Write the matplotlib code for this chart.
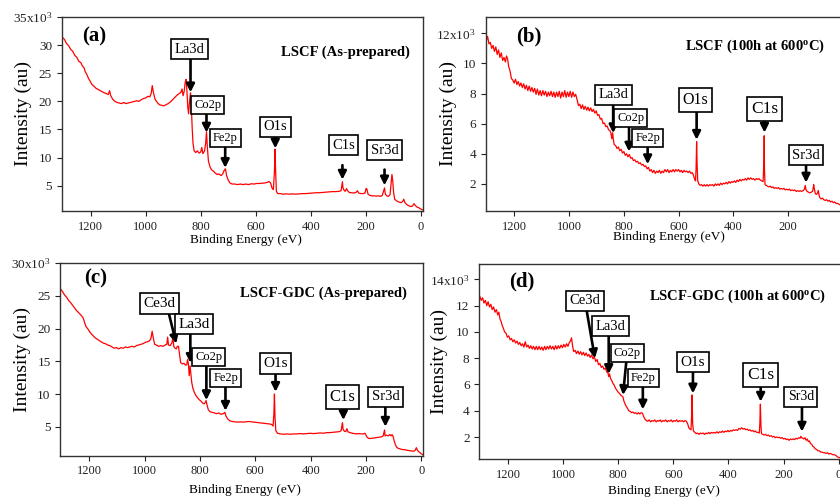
import matplotlib
matplotlib.use("Agg")
import matplotlib.pyplot as plt

plt.rcParams.update({
    "font.family": ["Liberation Serif", "DejaVu Serif"],
    "mathtext.fontset": "custom",
    "mathtext.rm": "Liberation Serif",
    "mathtext.bf": "Liberation Serif:bold",
    "mathtext.it": "Liberation Serif:italic",
})

# XPS survey spectra: binding energy (eV) and intensity (x10^3 counts)
A_BE = [1303, 1295, 1288, 1280, 1272, 1265, 1258, 1250, 1243, 1236,
        1230, 1224, 1220, 1214, 1208, 1202, 1195, 1188, 1180, 1172,
        1165, 1158, 1150, 1143, 1136, 1131, 1127, 1120, 1112, 1104,
        1096, 1088, 1080, 1072, 1064, 1056, 1048, 1040, 1032, 1024,
        1016, 1008, 1000, 992, 985, 980, 976, 972, 966, 958,
        950, 942, 934, 926, 918, 910, 902, 894, 886, 878,
        872, 868, 864, 860, 856, 853, 850, 847, 844, 840,
        837, 834, 831, 828, 824, 818, 812, 806, 800, 796,
        792, 786, 782, 779, 776, 772, 766, 760, 754, 746,
        740, 734, 726, 720, 714, 710, 706, 700, 694, 686,
        676, 666, 656, 646, 636, 626, 616, 606, 596, 586,
        576, 566, 558, 552, 546, 541, 536, 532, 530, 528,
        525, 520, 512, 500, 490, 478, 466, 454, 442, 430,
        418, 406, 394, 382, 370, 358, 346, 334, 322, 310,
        298, 290, 287, 285, 283, 279, 275, 270, 266, 260,
        252, 244, 236, 230, 226, 218, 210, 203, 199, 196,
        192, 186, 178, 170, 162, 154, 146, 140, 135, 132,
        129, 124, 118, 112, 108, 105, 102, 99, 95, 88,
        80, 72, 66, 62, 58, 50, 42, 36, 30, 25,
        20, 14, 8, 2, -4, -7]
A_I = [31.4, 31.0, 30.3, 29.9, 29.2, 28.9, 28.2, 27.8, 27.1, 26.9,
       26.3, 26.0, 25.3, 24.8, 24.1, 23.6, 23.0, 22.7, 22.3, 22.1,
       21.9, 21.7, 21.5, 21.4, 21.2, 21.9, 21.0, 20.4, 20.0, 19.8,
       19.7, 19.6, 19.8, 19.6, 19.7, 19.8, 19.9, 20.0, 20.1, 20.0,
       20.3, 20.5, 20.6, 20.9, 20.8, 21.4, 22.8, 21.6, 20.4, 19.8,
       19.4, 19.3, 19.2, 19.4, 19.6, 19.9, 20.3, 20.7, 21.1, 21.4,
       21.6, 22.2, 21.0, 21.8, 23.5, 23.9, 21.8, 19.0, 17.8, 20.3,
       21.5, 19.0, 15.3, 12.6, 11.2, 10.9, 11.2, 10.8, 11.0, 11.8,
       10.7, 11.2, 12.5, 14.6, 12.0, 9.4, 8.3, 7.8, 7.6, 7.2,
       7.0, 7.1, 6.8, 7.1, 7.8, 8.0, 6.8, 6.0, 5.5, 5.3,
       5.3, 5.2, 5.3, 5.2, 5.3, 5.2, 5.35, 5.3, 5.4, 5.4,
       5.45, 5.5, 5.6, 5.75, 5.5, 4.6, 4.3, 7.5, 11.5, 8.0,
       4.0, 3.6, 3.6, 3.5, 3.55, 3.5, 3.55, 3.5, 3.55, 3.6,
       3.6, 3.65, 3.7, 3.75, 3.75, 3.8, 3.85, 3.9, 3.95, 3.95,
       4.0, 4.1, 5.0, 5.7, 4.6, 4.2, 4.0, 4.5, 4.1, 3.8,
       3.75, 3.7, 3.8, 4.1, 3.7, 3.6, 3.6, 3.7, 4.5, 4.4,
       3.5, 3.3, 3.2, 3.2, 3.15, 3.2, 3.1, 3.3, 4.1, 4.6,
       3.5, 3.2, 3.1, 3.4, 5.5, 7.0, 5.8, 3.8, 2.6, 2.3,
       2.1, 2.0, 2.2, 2.6, 2.0, 1.6, 1.4, 1.3, 1.4, 1.8,
       1.5, 1.2, 1.1, 0.9, 0.75, 0.7]

B_BE = [1303, 1298, 1293, 1288, 1283, 1278, 1273, 1268, 1263, 1258,
        1253, 1248, 1243, 1238, 1233, 1229, 1225, 1221, 1216, 1211,
        1206, 1201, 1196, 1191, 1186, 1181, 1176, 1171, 1166, 1161,
        1156, 1151, 1146, 1141, 1136, 1131, 1126, 1121, 1116, 1111,
        1106, 1101, 1096, 1091, 1086, 1081, 1076, 1071, 1066, 1061,
        1056, 1051, 1046, 1041, 1036, 1031, 1026, 1021, 1016, 1011,
        1006, 1001, 996, 991, 986, 981, 976, 971, 966, 961,
        956, 951, 946, 941, 936, 931, 926, 921, 916, 911,
        906, 901, 896, 891, 886, 881, 876, 871, 866, 861,
        856, 851, 847, 844, 841, 838, 835, 830, 825, 820,
        815, 810, 805, 800, 795, 790, 785, 780, 775, 770,
        765, 760, 755, 750, 745, 740, 735, 730, 725, 720,
        715, 710, 705, 700, 695, 690, 685, 680, 675, 670,
        665, 660, 655, 650, 645, 640, 635, 630, 625, 620,
        615, 610, 605, 600, 595, 590, 585, 580, 575, 570,
        565, 560, 555, 550, 546, 542, 538, 536, 534, 532,
        530, 526, 521, 516, 511, 506, 501, 496, 491, 486,
        481, 476, 471, 466, 461, 456, 451, 446, 441, 436,
        431, 426, 421, 416, 411, 406, 401, 396, 391, 386,
        381, 376, 371, 366, 361, 356, 351, 346, 341, 336,
        331, 326, 321, 316, 311, 306, 301, 296, 291, 288,
        287, 286, 284, 280, 275, 270, 265, 260, 255, 250,
        245, 240, 235, 230, 225, 220, 215, 210, 205, 200,
        195, 190, 185, 180, 175, 170, 165, 160, 155, 150,
        145, 140, 137, 134, 130, 125, 120, 115, 110, 106,
        104, 100, 96, 92, 89, 87, 84, 79, 74, 69,
        64, 59, 54, 49, 44, 39, 34, 29, 24, 19,
        14, 9, 4, -1, -7]
B_I = [11.5, 11.8, 11.3, 11.4, 11.0, 11.2, 10.8, 11.1, 10.6, 10.9,
       10.4, 10.7, 10.2, 10.4, 10.1, 10.5, 10.3, 9.8, 9.5, 9.0,
       8.9, 8.7, 8.95, 8.6, 8.8, 8.5, 8.7, 8.4, 8.65, 8.3,
       8.55, 8.2, 8.5, 8.15, 8.4, 8.1, 8.35, 7.95, 8.3, 7.9,
       8.2, 7.85, 8.2, 7.9, 8.15, 7.8, 8.1, 7.85, 8.15, 7.8,
       8.1, 7.75, 8.1, 7.8, 8.15, 7.7, 8.1, 7.8, 8.2, 7.75,
       8.1, 7.8, 8.15, 7.75, 8.1, 7.8, 7.95, 7.6, 7.2, 7.3,
       7.0, 7.25, 6.95, 7.15, 6.9, 7.1, 6.85, 7.05, 6.8, 6.95,
       6.7, 6.85, 6.55, 6.6, 6.3, 6.35, 6.0, 6.05, 5.8, 5.85,
       5.6, 5.55, 5.35, 5.0, 5.4, 4.9, 4.6, 4.55, 4.35, 4.45,
       4.2, 4.3, 4.05, 4.15, 3.9, 4.0, 3.8, 3.95, 3.7, 3.75,
       3.55, 3.6, 3.45, 3.5, 3.35, 3.4, 3.25, 3.3, 3.15, 3.2,
       3.0, 3.1, 2.85, 2.95, 2.75, 2.9, 2.7, 2.85, 2.75, 2.9,
       2.7, 2.85, 2.75, 2.95, 2.8, 2.95, 2.75, 2.9, 2.8, 2.95,
       2.8, 2.95, 2.85, 2.95, 2.8, 2.9, 2.75, 2.9, 2.8, 2.85,
       2.75, 2.85, 2.7, 2.75, 2.6, 2.35, 2.2, 3.0, 4.8, 3.2,
       2.2, 2.0, 1.9, 1.95, 1.85, 1.95, 1.85, 1.95, 1.85, 1.95,
       1.9, 1.95, 1.85, 2.0, 1.9, 2.0, 1.9, 2.05, 1.95, 2.05,
       2.0, 2.1, 2.0, 2.15, 2.05, 2.15, 2.1, 2.2, 2.1, 2.25,
       2.15, 2.3, 2.2, 2.3, 2.25, 2.35, 2.25, 2.4, 2.3, 2.4,
       2.3, 2.35, 2.25, 2.35, 2.3, 2.35, 2.25, 2.2, 2.15, 3.5,
       5.2, 3.0, 1.95, 1.9, 1.85, 1.8, 1.85, 1.75, 1.8, 1.7,
       1.75, 1.7, 1.75, 1.65, 1.7, 1.65, 1.7, 1.6, 1.65, 1.6,
       1.65, 1.55, 1.6, 1.55, 1.6, 1.5, 1.55, 1.5, 1.55, 1.5,
       1.55, 1.65, 1.9, 1.6, 1.5, 1.45, 1.4, 1.45, 1.5, 1.95,
       1.7, 1.35, 1.3, 1.4, 1.55, 1.3, 1.1, 1.0, 1.05, 0.95,
       0.9, 0.95, 0.85, 0.9, 0.8, 0.85, 0.75, 0.8, 0.7, 0.7,
       0.65, 0.6, 0.6, 0.55, 0.55]

C_BE = [1303, 1296, 1289, 1282, 1275, 1268, 1261, 1254, 1247, 1240,
        1233, 1227, 1222, 1217, 1212, 1206, 1200, 1193, 1186, 1179,
        1172, 1165, 1158, 1150, 1142, 1134, 1126, 1118, 1110, 1102,
        1094, 1086, 1078, 1070, 1062, 1054, 1046, 1038, 1030, 1022,
        1014, 1006, 998, 990, 984, 978, 973, 969, 964, 958,
        950, 942, 934, 926, 920, 917, 914, 908, 902, 898,
        895, 890, 886, 882, 878, 874, 870, 864, 858, 852,
        848, 845, 842, 839, 836, 833, 830, 826, 820, 814,
        808, 802, 796, 790, 785, 781, 778, 775, 770, 764,
        756, 748, 740, 732, 724, 716, 710, 706, 700, 692,
        684, 674, 664, 654, 644, 634, 624, 614, 604, 594,
        584, 574, 564, 554, 545, 540, 536, 533, 531, 529,
        526, 520, 510, 498, 486, 474, 462, 450, 438, 426,
        414, 402, 390, 378, 366, 354, 342, 330, 318, 306,
        296, 290, 287, 285, 283, 278, 273, 269, 265, 258,
        250, 242, 234, 226, 218, 210, 204, 200, 196, 190,
        184, 176, 168, 160, 152, 144, 138, 135, 133, 131,
        126, 120, 114, 110, 106, 102, 98, 94, 90, 84,
        76, 68, 60, 52, 44, 36, 28, 22, 18, 14,
        10, 4, -2, -7]
C_I = [26.0, 25.6, 25.1, 24.8, 24.3, 24.0, 23.6, 23.2, 22.8, 22.5,
       22.2, 21.9, 21.6, 20.9, 20.3, 20.0, 19.6, 19.2, 18.9, 18.6,
       18.4, 18.2, 18.0, 17.8, 17.7, 17.5, 17.4, 17.2, 17.0, 17.1,
       16.9, 17.1, 17.0, 17.2, 17.1, 17.2, 17.3, 17.2, 17.4, 17.5,
       17.6, 17.7, 17.9, 18.0, 18.1, 18.4, 19.6, 18.6, 17.6, 17.5,
       17.3, 17.4, 17.3, 17.5, 17.6, 18.7, 17.5, 17.4, 17.8, 18.6,
       17.3, 17.0, 16.9, 17.3, 17.3, 16.0, 14.8, 14.6, 14.7, 14.4,
       14.5, 15.3, 14.6, 12.8, 14.3, 13.0, 11.8, 10.9, 10.2, 9.7,
       9.4, 9.1, 8.9, 8.6, 8.5, 8.7, 9.0, 8.4, 7.6, 7.3,
       7.2, 7.1, 7.0, 7.1, 6.9, 7.0, 7.2, 6.6, 6.2, 5.9,
       5.8, 5.75, 5.7, 5.75, 5.7, 5.75, 5.8, 5.75, 5.7, 5.65,
       5.6, 5.55, 5.5, 5.45, 5.4, 5.3, 5.1, 7.0, 10.0, 6.5,
       4.4, 4.0, 3.9, 3.85, 3.9, 3.85, 3.9, 3.9, 3.95, 3.9,
       3.95, 4.0, 3.95, 4.0, 4.05, 4.0, 4.1, 4.1, 4.15, 4.2,
       4.25, 4.4, 5.2, 5.6, 4.6, 4.3, 4.25, 4.7, 4.2, 4.1,
       4.0, 3.95, 3.9, 3.95, 3.9, 3.9, 4.0, 3.7, 3.4, 3.2,
       3.2, 3.25, 3.3, 3.35, 3.4, 3.45, 3.6, 4.1, 4.5, 3.6,
       3.7, 3.6, 3.8, 3.6, 3.8, 3.5, 2.8, 2.3, 1.9, 1.7,
       1.6, 1.5, 1.5, 1.4, 1.35, 1.3, 1.25, 1.4, 1.8, 1.4,
       1.2, 1.0, 0.8, 0.7]

D_BE = [1303, 1298, 1293, 1288, 1283, 1278, 1273, 1268, 1263, 1258,
        1253, 1248, 1243, 1238, 1234, 1230, 1226, 1222, 1218, 1213,
        1208, 1203, 1198, 1193, 1188, 1183, 1178, 1173, 1168, 1163,
        1158, 1153, 1148, 1143, 1138, 1133, 1128, 1123, 1118, 1113,
        1108, 1103, 1098, 1093, 1088, 1083, 1078, 1073, 1068, 1063,
        1058, 1053, 1048, 1043, 1038, 1033, 1028, 1023, 1018, 1013,
        1008, 1003, 998, 993, 988, 983, 978, 974, 970, 966,
        962, 957, 952, 947, 942, 937, 932, 927, 922, 917,
        912, 907, 902, 897, 892, 887, 882, 877, 872, 867,
        862, 857, 852, 847, 842, 838, 835, 832, 828, 824,
        820, 815, 810, 805, 800, 795, 790, 786, 783, 780,
        776, 772, 767, 762, 757, 752, 747, 742, 737, 732,
        727, 722, 717, 712, 708, 703, 698, 693, 688, 683,
        678, 673, 668, 663, 658, 653, 648, 643, 638, 633,
        628, 623, 618, 613, 608, 603, 598, 593, 588, 583,
        578, 573, 568, 563, 558, 553, 548, 544, 540, 536,
        534, 532, 530, 527, 522, 517, 512, 507, 502, 497,
        492, 487, 482, 477, 472, 467, 462, 457, 452, 447,
        442, 437, 432, 427, 422, 417, 412, 407, 402, 397,
        392, 387, 382, 377, 372, 367, 362, 357, 352, 347,
        342, 337, 332, 327, 322, 317, 312, 307, 302, 297,
        292, 288, 286, 284, 282, 280, 275, 270, 265, 260,
        255, 250, 245, 240, 235, 230, 225, 220, 215, 210,
        205, 200, 195, 190, 185, 180, 175, 170, 165, 160,
        155, 150, 145, 140, 137, 134, 130, 126, 122, 118,
        114, 110, 106, 102, 98, 94, 90, 85, 80, 75,
        70, 65, 60, 55, 50, 45, 40, 35, 30, 25,
        20, 15, 10, 5, 0, -7]
D_I = [12.7, 12.4, 12.6, 12.2, 12.4, 12.0, 12.3, 11.9, 12.1, 11.7,
       11.9, 11.5, 11.7, 11.3, 11.5, 11.0, 10.8, 10.5, 10.3, 10.0,
       9.9, 9.6, 9.7, 9.4, 9.5, 9.25, 9.4, 9.15, 9.3, 9.05,
       9.2, 8.95, 9.1, 8.85, 9.25, 8.85, 9.0, 8.75, 8.95, 8.7,
       8.9, 8.65, 8.9, 8.65, 8.9, 8.65, 8.85, 8.6, 8.9, 8.65,
       8.9, 8.7, 8.95, 8.7, 8.9, 8.65, 8.95, 8.7, 8.95, 8.75,
       9.0, 8.8, 9.05, 8.85, 9.1, 8.9, 9.2, 9.3, 9.55, 8.9,
       8.5, 8.6, 8.35, 8.55, 8.3, 8.5, 8.25, 8.45, 8.2, 8.4,
       8.15, 8.3, 8.05, 8.25, 7.95, 8.1, 7.75, 7.9, 7.5, 7.6,
       7.3, 7.4, 7.15, 7.25, 6.95, 6.9, 6.6, 6.8, 6.45, 6.3,
       6.1, 5.95, 5.7, 5.55, 5.4, 5.3, 5.15, 5.1, 5.05, 4.75,
       4.55, 4.35, 4.2, 4.0, 3.95, 3.85, 3.9, 3.8, 3.85, 3.75,
       3.85, 3.75, 3.85, 3.8, 3.55, 3.35, 3.25, 3.2, 3.3, 3.15,
       3.25, 3.2, 3.3, 3.15, 3.25, 3.2, 3.3, 3.15, 3.25, 3.2,
       3.3, 3.15, 3.25, 3.2, 3.3, 3.15, 3.25, 3.2, 3.3, 3.15,
       3.25, 3.2, 3.25, 3.15, 3.25, 3.2, 3.0, 2.7, 2.6, 2.55,
       3.5, 5.2, 3.0, 2.45, 2.35, 2.25, 2.3, 2.2, 2.3, 2.25,
       2.3, 2.2, 2.3, 2.25, 2.35, 2.25, 2.35, 2.3, 2.35, 2.3,
       2.4, 2.3, 2.4, 2.35, 2.45, 2.35, 2.45, 2.4, 2.5, 2.4,
       2.5, 2.45, 2.55, 2.5, 2.55, 2.5, 2.65, 2.6, 2.7, 2.6,
       2.65, 2.55, 2.6, 2.5, 2.55, 2.45, 2.5, 2.4, 2.45, 2.35,
       2.35, 2.3, 3.0, 4.5, 2.9, 2.25, 2.2, 2.15, 2.2, 2.1,
       2.15, 2.05, 2.1, 2.0, 2.05, 1.95, 2.0, 1.95, 1.98, 1.9,
       1.95, 1.85, 1.9, 1.8, 1.85, 1.75, 1.85, 1.8, 1.85, 1.8,
       1.9, 1.85, 1.95, 1.9, 2.05, 1.95, 1.9, 1.85, 1.95, 1.75,
       1.85, 1.65, 1.7, 1.5, 1.45, 1.3, 1.25, 1.1, 1.05, 0.95,
       0.95, 0.85, 0.85, 0.8, 0.8, 0.75, 0.8, 0.7, 0.75, 0.7,
       0.65, 0.65, 0.6, 0.5, 0.45, 0.4]

# y ticks (x10^3) per panel; the top one carries the multiplier
A_TICKS = [5, 10, 15, 20, 25, 30, 35]
B_TICKS = [2, 4, 6, 8, 10, 12]
C_TICKS = [5, 10, 15, 20, 25, 30]
D_TICKS = [2, 4, 6, 8, 10, 12, 14]
X_TICKS = [1200, 1000, 800, 600, 400, 200, 0]

TAGS = ["(a)", "(b)", "(c)", "(d)"]
SAMPLES = ["LSCF (As-prepared)",
           r"LSCF (100h at 600$^{\mathbf{o}}$C)",
           "LSCF-GDC (As-prepared)",
           r"LSCF-GDC (100h at 600$^{\mathbf{o}}$C)"]

# peak markers: label, box centre, arrow tail, arrow head, font size
A_PEAKS = [("La3d", (840, 29.3), (837, 27.5), (837, 21.6), 10.5),
           ("Co2p", (774, 19.4), (779, 17.9), (779, 14.45), 9),
           ("Fe2p", (711, 13.4), (711, 12.06), (711, 8.17), 9),
           ("O1s", (529, 15.5), (529, 13.97), (529, 11.64), 10.5),
           ("C1s", (281, 12.2), (285, 8.65), (285, 6.08), 10.5),
           ("Sr3d", (132, 11.3), (132, 7.87), (132, 5.06), 10.5)]
B_PEAKS = [("La3d", (839, 7.92), (839, 7.25), (839, 5.37), 10.5),
           ("Co2p", (775, 6.39), (781, 5.81), (781, 4.15), 9),
           ("Fe2p", (713, 5.06), (713, 4.48), (713, 3.31), 9),
           ("O1s", (539, 7.59), (534, 6.88), (534, 4.93), 11.5),
           ("C1s", (285, 6.97), (286, 6.15), (286, 5.41), 12.5),
           ("Sr3d", (134, 3.91), (134, 3.26), (134, 2.09), 10.5)]
C_PEAKS = [("Ce3d", (946, 23.83), (914, 22.56), (886, 17.72), 11),
           ("La3d", (822, 20.67), (835, 19.25), (835, 14.77), 11),
           ("Co2p", (768, 15.69), (777, 14.41), (777, 9.07), 9),
           ("Fe2p", (707, 12.38), (708, 11.1), (708, 7.44), 9),
           ("O1s", (527, 14.67), (527, 13.14), (527, 10.34), 11),
           ("C1s", (285, 9.58), (282, 8.05), (282, 6.02), 12),
           ("Sr3d", (130, 9.58), (130, 8.05), (130, 5.0), 10.5)]
D_PEAKS = [("Ce3d", (921, 12.36), (915, 11.62), (885, 7.99), 10.5),
           ("La3d", (827, 10.43), (835, 9.64), (835, 6.8), 10.5),
           ("Co2p", (767, 8.37), (771, 7.74), (783, 5.2), 9),
           ("Fe2p", (710, 6.47), (711, 5.83), (711, 4.1), 9),
           ("O1s", (529, 7.71), (529, 6.97), (529, 5.32), 11),
           ("C1s", (284, 6.72), (283, 5.83), (283, 4.69), 12.5),
           ("Sr3d", (137, 5.05), (133, 4.31), (133, 2.41), 10)]


def panel(fig, rect, be, inten, yticks, ylim, tag, sample, peaks,
          tag_xy, sample_xy, ylab_x, xlab_y):
    ax = fig.add_axes(rect)
    ax.plot(be, inten, color="#ff0000", lw=0.9)
    ax.set_xlim(1305, -7)
    ax.set_ylim(*ylim)
    ax.set_xticks(X_TICKS)
    ax.set_xticklabels([str(v) for v in X_TICKS])
    labels = [str(v) for v in yticks[:-1]] + [f"{yticks[-1]}x10$^{{3}}$"]
    ax.set_yticks(yticks)
    ax.set_yticklabels(labels)
    ax.tick_params(direction="out", length=3.5, width=0.8, labelsize=9.5,
                   colors="#222", top=False, right=False)
    ax.tick_params(axis="x", pad=3.5, labelsize=9)
    for sp in ax.spines.values():
        sp.set_linewidth(1.0)
        sp.set_color("#333")
    ax.set_ylabel("Intensity (au)", fontsize=14)
    ax.yaxis.set_label_coords(ylab_x, 0.5)
    ax.set_xlabel("Binding Energy (eV)", fontsize=9.5)
    ax.xaxis.set_label_coords(0.51, xlab_y)
    ax.text(*tag_xy, tag, transform=ax.transAxes, fontsize=15, fontweight="bold",
            ha="center", va="center")
    ax.text(*sample_xy, sample, transform=ax.transAxes, fontsize=10.5,
            fontweight="bold", ha="right", va="center")
    for name, box, tail, head, fs in peaks:
        ax.annotate("", xy=head, xytext=tail,
                    arrowprops=dict(arrowstyle="-|>", lw=1.9, color="black",
                                    mutation_scale=12, shrinkA=0, shrinkB=0))
        ax.text(*box, name, fontsize=fs, ha="center", va="center",
                bbox=dict(boxstyle="square,pad=0.24", fc="white", ec="black", lw=1.2))
    return ax


fig = plt.figure(figsize=(8.4, 4.99), dpi=100)
panel(fig, [0.0735, 0.5772, 0.4298, 0.3888], A_BE, A_I, A_TICKS, (0.51, 35.0),
      TAGS[0], SAMPLES[0], A_PEAKS, (0.09, 0.90), (0.965, 0.82), -0.083, -0.12)
panel(fig, [0.5782, 0.5772, 0.4273, 0.3888], B_BE, B_I, B_TICKS, (0.2, 13.09),
      TAGS[1], SAMPLES[1], B_PEAKS, (0.119, 0.90), (0.945, 0.847), -0.081, -0.105)
panel(fig, [0.0718, 0.0868, 0.4321, 0.3856], C_BE, C_I, C_TICKS, (0.57, 30.0),
      TAGS[2], SAMPLES[2], C_PEAKS, (0.098, 0.922), (0.955, 0.844), -0.082, -0.145)
panel(fig, [0.5706, 0.0795, 0.4300, 0.3914], D_BE, D_I, D_TICKS, (0.3, 15.17),
      TAGS[3], SAMPLES[3], D_PEAKS, (0.119, 0.909), (0.959, 0.833), -0.086, -0.13)
fig.savefig("out.png", dpi=100)
